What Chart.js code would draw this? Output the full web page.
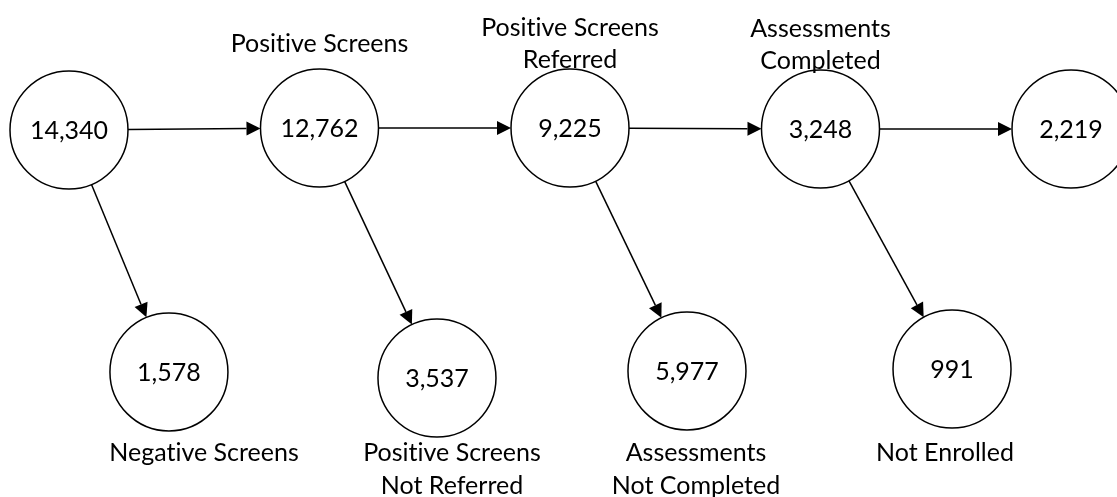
<!DOCTYPE html>
<html>
<head>
<meta charset="utf-8">
<script src="https://cdn.jsdelivr.net/npm/chart.js@4.4.1/dist/chart.umd.min.js"></script>
<style>
  html, body { margin: 0; padding: 0; background: #ffffff; }
  #wrap { width: 1117px; height: 497px; }
</style>
</head>
<body>
<div id="wrap"><canvas id="c" width="1117" height="497"></canvas></div>
<script>
// ---- data ----
const stageLabels = [[""], ["Positive Screens"], ["Positive Screens", "Referred"], ["Assessments", "Completed"], [""]];
const stageCounts = [14340, 12762, 9225, 3248, 2219];
const exitLabels = [["Negative Screens"], ["Positive Screens", "Not Referred"], ["Assessments", "Not Completed"], ["Not Enrolled"]];
const exitCounts = [1578, 3537, 5977, 991];

// ---- layout (axis units) ----
const stageX = [0, 1, 2, 3, 4];
const stageY = [1, 1.008, 1.008, 1.004, 1.004];
const exitX = [0.399, 1.469, 2.467, 3.525];
const exitY = [0, -0.025, 0.004, 0.012];
const exitLabelX = [0.539, 1.529, 2.503, 3.497];

const FONT = "Lato, 'Open Sans', sans-serif";
const R = 59;

function fmt(n) { return n.toLocaleString('en-US'); }
// avoid the "ti" ligature of the canvas font (reference has none)
function noLig(s) { return s.replace(/ti/g, 't\u200Ci').replace(/fl/g, 'f\u200Cl').replace(/ff/g, 'f\u200Cf'); }

function arrow(ctx, x1, y1, x2, y2, r1, r2) {
  const dx = x2 - x1, dy = y2 - y1;
  const L = Math.hypot(dx, dy);
  const ux = dx / L, uy = dy / L;
  const sx = x1 + ux * r1, sy = y1 + uy * r1;
  const ex = x2 - ux * r2, ey = y2 - uy * r2;
  const hl = 14, hw = 7;
  const bx = ex - ux * hl, by = ey - uy * hl;
  ctx.save();
  ctx.strokeStyle = '#000';
  ctx.fillStyle = '#000';
  ctx.lineWidth = 1.5;
  ctx.beginPath();
  ctx.moveTo(sx, sy);
  ctx.lineTo(bx, by);
  ctx.stroke();
  ctx.beginPath();
  ctx.moveTo(ex, ey);
  ctx.lineTo(bx - uy * hw, by + ux * hw);
  ctx.lineTo(bx + uy * hw, by - ux * hw);
  ctx.closePath();
  ctx.fill();
  ctx.restore();
}

const flowPlugin = {
  id: 'flow',
  beforeDatasetsDraw(chart) {
    const ctx = chart.ctx;
    const top = chart.getDatasetMeta(0).data;
    const bot = chart.getDatasetMeta(1).data;
    for (let i = 0; i < top.length - 1; i++) {
      arrow(ctx, top[i].x, top[i].y, top[i + 1].x, top[i + 1].y, R, R);
    }
    for (let i = 0; i < bot.length; i++) {
      arrow(ctx, top[i].x, top[i].y, bot[i].x, bot[i].y, R, R);
    }
  },
  afterDatasetsDraw(chart) {
    const ctx = chart.ctx;
    const xs = chart.scales.x;
    const top = chart.getDatasetMeta(0).data;
    const bot = chart.getDatasetMeta(1).data;
    ctx.save();
    ctx.fillStyle = '#000';
    ctx.textAlign = 'center';
    ctx.textBaseline = 'middle';
    ctx.font = '25px ' + FONT;
    top.forEach((p, i) => {
      ctx.fillText(fmt(stageCounts[i]), p.x, p.y + 1);
      const lines = stageLabels[i].filter(s => s);
      const lh = 32;
      const cy = p.y - 84;
      lines.forEach((s, k) => {
        ctx.fillText(noLig(s), p.x, cy + (k - (lines.length - 1) / 2) * lh);
      });
    });
    bot.forEach((p, i) => {
      ctx.fillText(fmt(exitCounts[i]), p.x, p.y + 1);
      const lx = xs.getPixelForValue(exitLabelX[i]);
      exitLabels[i].forEach((s, k) => {
        ctx.fillText(noLig(s), lx, 453 + k * 33);
      });
    });
    ctx.restore();
  }
};

const pointStyle = {
  pointRadius: R,
  pointHoverRadius: R,
  pointBackgroundColor: '#ffffff',
  pointBorderColor: '#000000',
  pointBorderWidth: 1.5,
  pointHoverBorderWidth: 1.5,
  showLine: false,
  clip: false
};

new Chart(document.getElementById('c'), {
  type: 'scatter',
  data: {
    datasets: [
      Object.assign({ label: 'Stages', data: stageCounts.map((v, i) => ({ x: stageX[i], y: stageY[i], v })) }, pointStyle),
      Object.assign({ label: 'Exits', data: exitCounts.map((v, i) => ({ x: exitX[i], y: exitY[i], v })) }, pointStyle)
    ]
  },
  options: {
    responsive: false,
    animation: false,
    events: [],
    layout: { padding: 0, autoPadding: false },
    plugins: { legend: { display: false }, tooltip: { enabled: false } },
    scales: {
      x: { type: 'linear', display: false, min: -0.2754, max: 4.1836 },
      y: { type: 'linear', display: false, min: -0.517, max: 1.537 }
    }
  },
  plugins: [flowPlugin]
});
</script>
</body>
</html>
